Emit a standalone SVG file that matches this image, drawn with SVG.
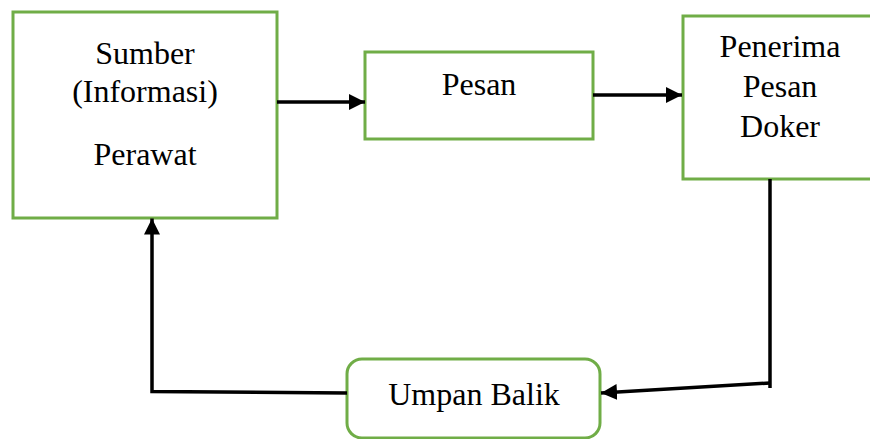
<svg xmlns="http://www.w3.org/2000/svg" width="870" height="439" viewBox="0 0 870 439">
<style>
.box{fill:#fff;stroke:#70ad47;stroke-width:3}
.lbl{font-family:"Liberation Serif","Times New Roman",serif;font-size:32px;fill:#000;text-anchor:middle}
.con{fill:none;stroke:#000;stroke-width:3.5}
</style>
<defs>
<marker id="ah" markerWidth="16" markerHeight="16" viewBox="0 0 16 16" refX="16" refY="8" orient="auto" markerUnits="userSpaceOnUse">
<path d="M0,0 L16,8 L0,16 Z" fill="#000"/>
</marker>
</defs>
<rect width="870" height="439" fill="#fff"/>
<g id="sumber">
<rect class="box" x="13" y="12" width="264" height="206"/>
<text class="lbl" x="145" y="64">Sumber</text>
<text class="lbl" x="145" y="102">(Informasi)</text>
<text class="lbl" x="145" y="165">Perawat</text>
</g>
<g id="pesan">
<rect class="box" x="365" y="52" width="228" height="87"/>
<text class="lbl" x="479" y="95">Pesan</text>
</g>
<g id="penerima">
<rect class="box" x="683" y="16" width="200" height="163"/>
<text class="lbl" x="780" y="57">Penerima</text>
<text class="lbl" x="780" y="97">Pesan</text>
<text class="lbl" x="780" y="137">Doker</text>
</g>
<g id="umpan">
<rect class="box" x="347" y="359" width="253" height="79" rx="15" ry="15"/>
<text class="lbl" x="474" y="405">Umpan Balik</text>
</g>
<g id="connectors">
<line class="con" x1="277" y1="102" x2="365" y2="102" marker-end="url(#ah)"/>
<line class="con" x1="593" y1="95" x2="682" y2="95" marker-end="url(#ah)"/>
<line class="con" x1="770" y1="179" x2="770" y2="388"/>
<line class="con" x1="770" y1="383" x2="601" y2="393" marker-end="url(#ah)"/>
<polyline class="con" points="347,393 152,391.5 152,218.5" marker-end="url(#ah)"/>
</g>
</svg>
